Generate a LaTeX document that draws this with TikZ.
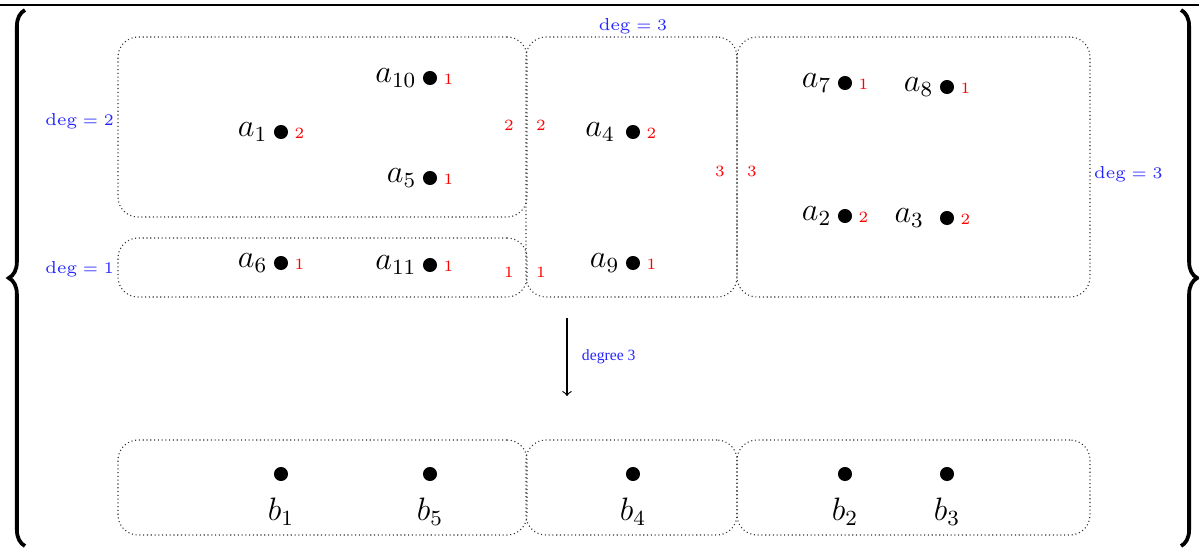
\documentclass[tikz,border=0pt]{standalone}
\usepackage{amsmath,amssymb}
\usepackage{xcolor}
\usepackage{fontspec}
\newfontfamily\timesfont{Liberation Serif}
\usepackage{tikz}
\usetikzlibrary{positioning,fit,decorations.pathreplacing}

\begin{document}
\begin{tikzpicture}[
		x=0.37pt, y=-0.37pt,
		partbox/.style={
			draw=black!80,
			densely dotted,
			rounded corners=7.4pt,
			inner sep=0pt
		},
		vertex/.style={circle, fill, inner sep=0pt, minimum size=5.2pt},
		vname/.style={inner sep=1pt, font=\large},
		degnum/.style={text=red, inner sep=1pt, font=\fontsize{5.8}{7}\selectfont},
		deglabel/.style={text=blue!85, inner sep=1pt, font=\fontsize{6.4}{8}\selectfont},
		bigbrace/.style={decorate, decoration={brace, amplitude=6pt}, line width=1.4pt},
		arrow/.style={->}
	]
		\useasboundingbox (0,0) rectangle (1199,548);
		\draw[line width=0.6pt] (0,5) -- (1199,5);

		% braces round the whole picture
		\coordinate (lbtop) at (25,10);
		\coordinate (lbbot) at (25,546);
		\coordinate (rbtop) at (1181,10);
		\coordinate (rbbot) at (1181,546);
		\draw[bigbrace] (lbbot) -- (lbtop);
		\draw[bigbrace] (rbtop) -- (rbbot);

		% upper partition
		\node[partbox, fit={(118,37) (527,217)}] (partA1) {};
		\node[partbox, fit={(118,238) (527,297)}] (partA2) {};
		\node[partbox, fit={(526,37) (737,297)}] (partA3) {};
		\node[partbox, fit={(737,37) (1090,297)}] (partA4) {};

		\node[vertex] (a10) at (430,78) {};
		\node[vname, left=1pt of a10] {$a_{10}$};
		\node[degnum, right=1pt of a10, yshift=-0.6pt] {1};
		\node[vertex] (a1) at (281,132) {};
		\node[vname, left=1pt of a1] {$a_1$};
		\node[degnum, right=1pt of a1, yshift=-0.6pt] {2};
		\node[vertex] (a5) at (430,178) {};
		\node[vname, left=1pt of a5] {$a_5$};
		\node[degnum, right=1pt of a5, yshift=-0.6pt] {1};
		\node[vertex] (a6) at (281,263) {};
		\node[vname, left=1pt of a6] {$a_6$};
		\node[degnum, right=1pt of a6, yshift=-0.6pt] {1};
		\node[vertex] (a11) at (430,265) {};
		\node[vname, left=1pt of a11] {$a_{11}$};
		\node[degnum, right=1pt of a11, yshift=-0.6pt] {1};
		\node[vertex] (a4) at (633,132) {};
		\node[vname, left=2.7pt of a4] {$a_4$};
		\node[degnum, right=1pt of a4, yshift=-0.6pt] {2};
		\node[vertex] (a9) at (633,263) {};
		\node[vname, left=1pt of a9] {$a_9$};
		\node[degnum, right=1pt of a9, yshift=-0.6pt] {1};
		\node[vertex] (a7) at (845,83) {};
		\node[vname, left=1pt of a7] {$a_7$};
		\node[degnum, right=1pt of a7, yshift=-0.6pt] {1};
		\node[vertex] (a8) at (947,87) {};
		\node[vname, left=1pt of a8] {$a_8$};
		\node[degnum, right=1pt of a8, yshift=-0.6pt] {1};
		\node[vertex] (a2) at (845,216) {};
		\node[vname, left=1pt of a2] {$a_2$};
		\node[degnum, right=1pt of a2, yshift=-0.6pt] {2};
		\node[vertex] (a3) at (947,218) {};
		\node[vname, left=4.5pt of a3] {$a_3$};
		\node[degnum, right=1pt of a3, yshift=-0.6pt] {2};

		% degrees on the shared borders
		\node[degnum] (cutA1l) at (509,125) {2};
		\node[degnum] (cutA1r) at (541,125) {2};
		\node[degnum] (cutA2l) at (509,272) {1};
		\node[degnum] (cutA2r) at (541,272) {1};
		\node[degnum] (cutA3l) at (720,171) {3};
		\node[degnum] (cutA3r) at (752,171) {3};

		\node[deglabel, anchor=east] (degA1) at (117,121) {$\deg = 2$};
		\node[deglabel, anchor=east] (degA2) at (117,269) {$\deg = 1$};
		\node[deglabel] (degA3) at (633,26) {$\deg = 3$};
		\node[deglabel, anchor=west] (degA4) at (1091,174) {$\deg = 3$};

		% quotient map
		\coordinate (maptop) at (567,318);
		\coordinate (mapbot) at (567,396);
		\draw[arrow] (maptop) -- node[right=2pt, text=blue!85, font=\timesfont\fontsize{5.8}{7}\selectfont] {degree 3} (mapbot);

		% lower partition
		\node[partbox, fit={(118,440) (527,535)}] (partB1) {};
		\node[partbox, fit={(526,440) (737,535)}] (partB2) {};
		\node[partbox, fit={(737,440) (1090,535)}] (partB3) {};

		\node[vertex] (b1) at (281,474) {};
		\node[vname, below=5pt of b1] {$b_1$};
		\node[vertex] (b5) at (430,474) {};
		\node[vname, below=5pt of b5] {$b_5$};
		\node[vertex] (b4) at (633,474) {};
		\node[vname, below=5pt of b4] {$b_4$};
		\node[vertex] (b2) at (845,474) {};
		\node[vname, below=5pt of b2] {$b_2$};
		\node[vertex] (b3) at (947,474) {};
		\node[vname, below=5pt of b3] {$b_3$};
	\end{tikzpicture}
\end{document}
